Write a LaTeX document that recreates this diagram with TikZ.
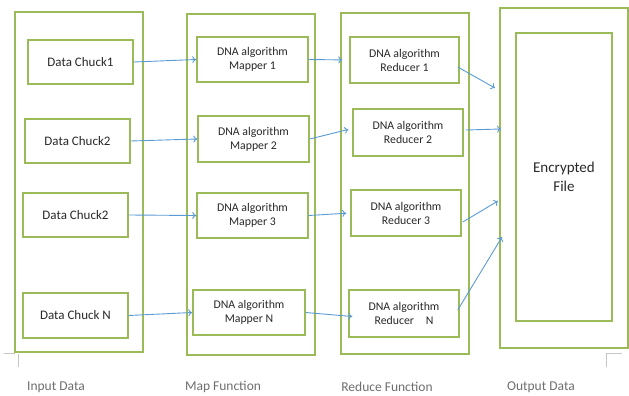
\documentclass[tikz,border=0pt]{standalone}
\usepackage{fontspec}
\setmainfont{Carlito}
\usetikzlibrary{arrows.meta}
\definecolor{boxgreen}{RGB}{155,187,89}
\definecolor{flowblue}{RGB}{91,155,213}
\definecolor{labelgray}{RGB}{110,110,110}
\definecolor{textdark}{RGB}{40,40,40}
\tikzset{
  stage/.style={draw=boxgreen, line width=1.5pt, rectangle, inner sep=0pt, minimum width=128pt},
  item/.style={draw=boxgreen, line width=1.5pt, rectangle, inner sep=0pt, align=center,
    text=textdark, font=\fontsize{11.8}{14}\selectfont},
  chunk/.style={item, font=\fontsize{13}{15}\selectfont},
  flow/.style={draw=flowblue, line width=0.9pt, -{To[length=4pt,width=7pt]}},
  caption/.style={text=labelgray, font=\fontsize{13.5}{16}\selectfont},
  tick/.style={draw=gray!45, line width=0.6pt},
}
\begin{document}
\begin{tikzpicture}[x=1pt,y=-1pt]
\useasboundingbox (0,0) rectangle (629,396);

% stage frames
\node[stage, minimum height=340pt] (inp) at (79,182) {};
\node[stage, minimum height=341pt] (map) at (251,184.5) {};
\node[stage, minimum height=341pt] (red) at (405,183.5) {};
\node[stage, minimum height=340pt] (out) at (564,178) {};
\node[item, minimum width=96pt, minimum height=288pt,
      font=\fontsize{15}{19}\selectfont] (file) at (564,177) {Encrypted\\File};

% input chunks
\node[chunk, minimum width=105pt, minimum height=44pt] (c1) at (80.5,62) {Data Chuck1};
\node[chunk, minimum width=105pt, minimum height=44pt] (c2) at (77.5,141) {Data Chuck2};
\node[chunk, minimum width=105pt, minimum height=44pt] (c3) at (75.5,215) {Data Chuck2};
\node[chunk, minimum width=105pt, minimum height=45pt] (c4) at (75.5,315.5) {Data Chuck N};

% mappers
\node[item, minimum width=111pt, minimum height=45pt] (m1) at (252.5,59.5) {DNA algorithm\\Mapper 1};
\node[item, minimum width=111pt, minimum height=46pt] (m2) at (253.5,139) {DNA algorithm\\Mapper 2};
\node[item, minimum width=111pt, minimum height=45pt] (m3) at (252.5,215.5) {DNA algorithm\\Mapper 3};
\node[item, minimum width=112pt, minimum height=45pt] (m4) at (249,312.5) {DNA algorithm\\Mapper N};

% reducers
\node[item, minimum width=109pt, minimum height=46pt] (r1) at (404.5,60) {DNA algorithm\\Reducer 1};
\node[item, minimum width=110pt, minimum height=47pt] (r2) at (408,132.5) {DNA algorithm\\Reducer 2};
\node[item, minimum width=110pt, minimum height=46pt] (r3) at (406,213) {DNA algorithm\\Reducer 3};
\node[item, minimum width=110pt, minimum height=47pt] (r4) at (404,313.5) {DNA algorithm\\Reducer\quad N};

% arrow targets on the output frame
\coordinate (o1) at (495,88);
\coordinate (o2) at (501,129);
\coordinate (o3) at (498,201);
\coordinate (o4) at (502,237);

% data flow
\draw[flow] (c1.east) -- (m1.west);
\draw[flow] (c2.east) -- (m2.west);
\draw[flow] (c3.east) -- (m3.west);
\draw[flow] (c4.east) -- (m4.west);
\draw[flow, shorten >=7pt] (m1.east) -- (r1.west);
\draw[flow, shorten >=4pt] (m2.east) -- ([yshift=4pt]r2.west);
\draw[flow, shorten >=4pt] (m3.east) -- (r3.west);
\draw[flow] (m4.east) -- ([xshift=4pt,yshift=-3pt]r4.west);
\draw[flow] ([xshift=-2pt,yshift=-7pt]r1.east) -- (o1);
\draw[flow] ([xshift=2pt,yshift=2.5pt]r2.east) -- (o2);
\draw[flow] ([xshift=1pt,yshift=-9pt]r3.east) -- (o3);
\draw[flow] ([xshift=-2pt,yshift=3.5pt]r4.east) -- (o4);

% small corner marks
\draw[tick] (4,353) -- (15,353);
\draw[tick] (18,354) -- (18,367);
\draw[tick] (606,353) -- (622,353);
\draw[tick] (606,354) -- (606,367);

% stage captions
\node[caption] (capin) at (56,387) {Input Data};
\node[caption] (capmap) at (223,387) {Map Function};
\node[caption] (capred) at (387,387) {Reduce Function};
\node[caption] (capout) at (541,387) {Output Data};
\end{tikzpicture}
\end{document}
